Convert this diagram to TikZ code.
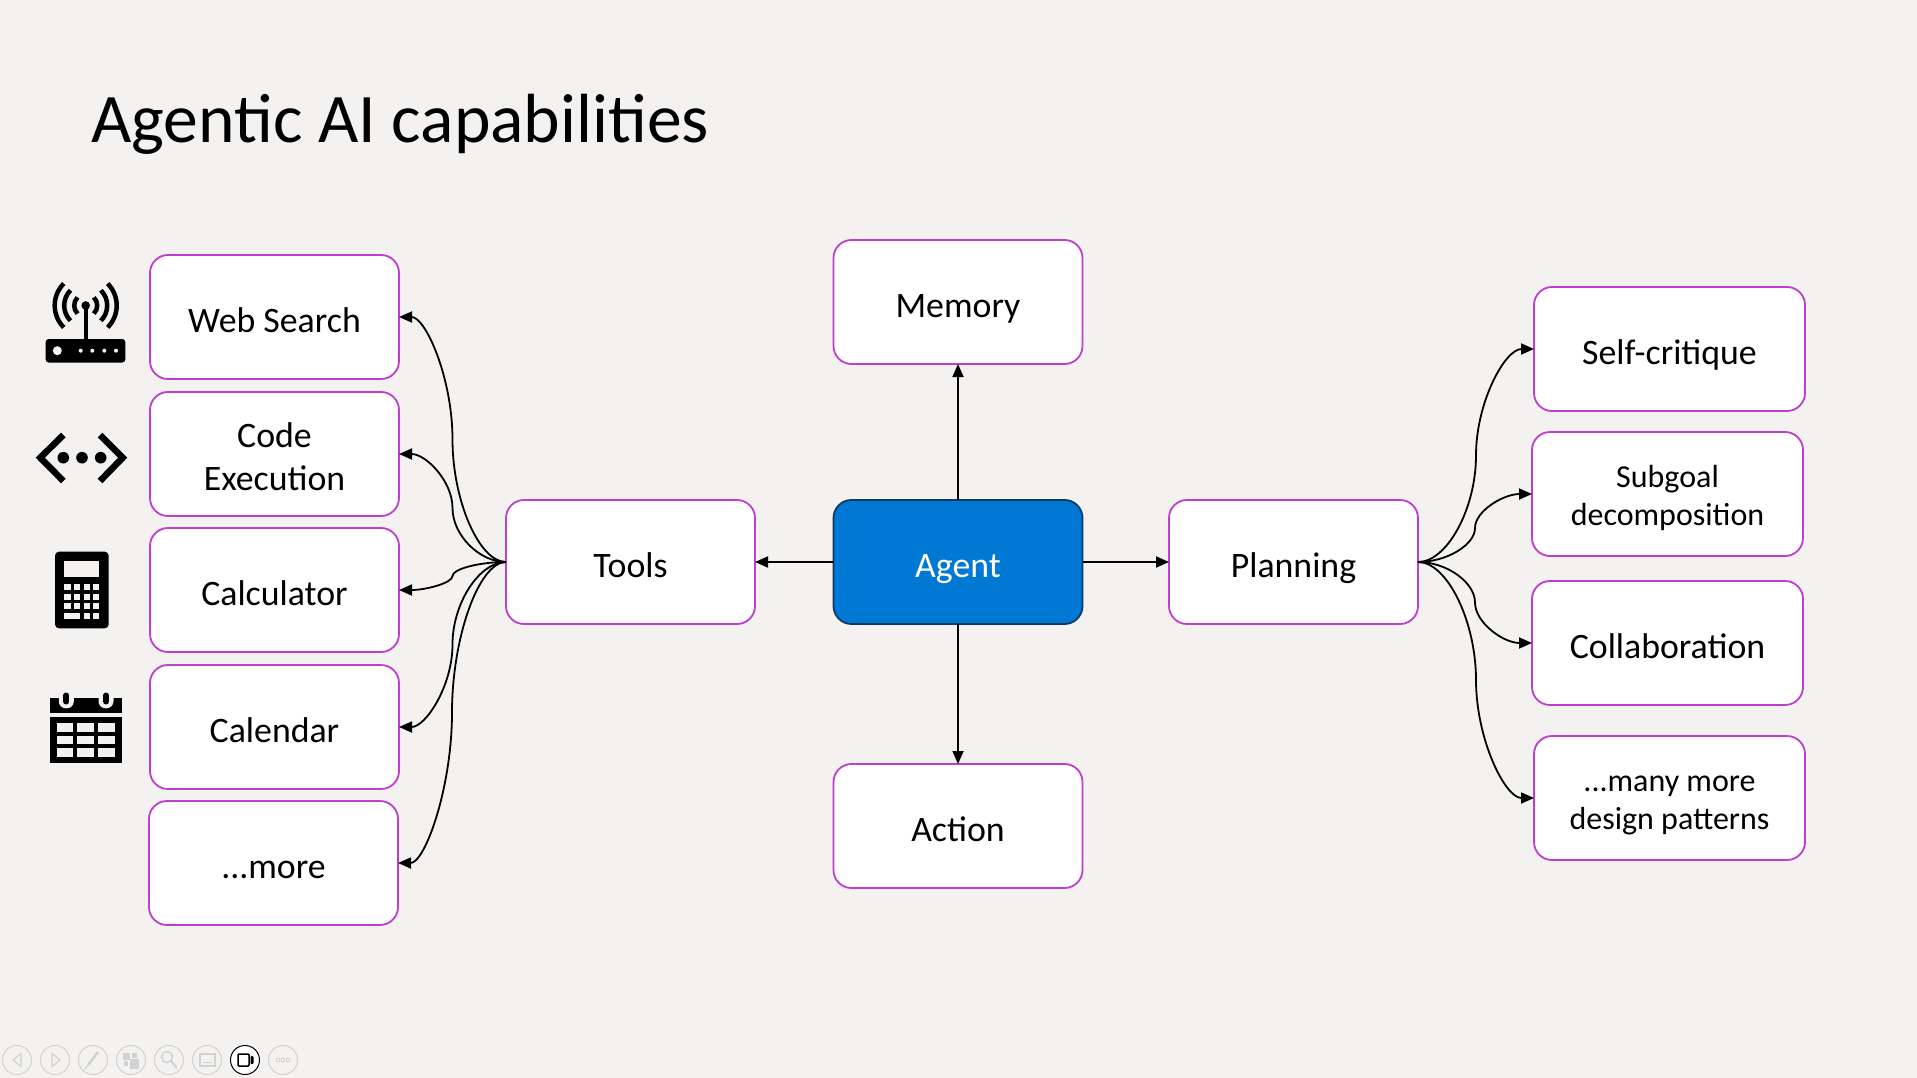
\documentclass[tikz,border=0pt]{standalone}
\usepackage{fontspec}
\setmainfont{Carlito}
\usetikzlibrary{arrows.meta,calc}
\definecolor{bgc}{HTML}{F3F2F1}
\definecolor{boxline}{HTML}{BE3FCB}
\definecolor{agentfill}{HTML}{0078D4}
\definecolor{agentline}{HTML}{0B3A66}
\definecolor{tb}{HTML}{D2D2D2}
\tikzset{
  box/.style={draw=boxline,fill=white,line width=1.8pt,rounded corners=18pt,minimum width=249pt,minimum height=124pt,outer sep=0pt,inner sep=0pt,align=center,font=\fontsize{35.8}{43}\selectfont,text=black,text height=30pt,text depth=0pt},
  wide/.style={minimum width=271pt},
  twolines/.style={text height=73pt,text depth=0pt},
  small/.style={font=\fontsize{32}{38}\selectfont,text height=63pt,text depth=0pt},
  agentbox/.style={box,fill=agentfill,draw=agentline,text=white},
  arr/.style={draw=black,line width=1.8pt,-{Triangle[length=13pt,width=11pt]}},
  tbc/.style={draw=tb,line width=1pt,fill=none},
  tbi/.style={draw=tb,line width=1.2pt,fill=none},
}
\newcommand{\curvelink}[2]{%
  \draw[arr] let \p1=(#1),\p2=(#2) in (\p1)
    .. controls ({.75*\x1+.25*\x2},\y1) and ({.5*\x1+.5*\x2},{.75*\y1+.25*\y2}) .. ({.5*\x1+.5*\x2},{.5*\y1+.5*\y2})
    .. controls ({.5*\x1+.5*\x2},{.25*\y1+.75*\y2}) and ({.25*\x1+.75*\x2},\y2) .. (\p2);}
\begin{document}
\begin{tikzpicture}[x=1pt,y=-1pt]
\useasboundingbox (0,0) rectangle (1917,1078);
\fill[bgc] (0,0) rectangle (1917,1078);
\node[anchor=base west,inner sep=0pt,font=\fontsize{69.6}{75}\selectfont] (title) at (91,143) {Agentic AI capabilities};
% boxes
\node[box] (web) at (274.5,317) {Web Search};
\node[box,twolines] (code) at (274.5,454) {Code\\Execution};
\node[box] (calc) at (274.5,590) {Calculator};
\node[box] (cal) at (274.5,727) {Calendar};
\node[box] (more) at (273.5,863) {...more};
\node[box] (tools) at (630.5,562) {Tools};
\node[agentbox] (agent) at (958,562) {Agent};
\node[box] (memory) at (958,302) {Memory};
\node[box] (action) at (958,826) {Action};
\node[box] (plan) at (1293.5,562) {Planning};
\node[box,wide] (self) at (1669.5,349) {Self-critique};
\node[box,wide,small] (sub) at (1667.5,494) {Subgoal\\decomposition};
\node[box,wide] (collab) at (1667.5,643) {Collaboration};
\node[box,wide,small] (many) at (1669.5,798) {...many more\\design patterns};
% connectors
\draw[arr] (agent.north) -- (memory.south);
\draw[arr] (agent.south) -- (action.north);
\draw[arr] (agent.west) -- (tools.east);
\draw[arr] (agent.east) -- (plan.west);
\curvelink{tools.west}{web.east}
\curvelink{tools.west}{code.east}
\curvelink{tools.west}{calc.east}
\curvelink{tools.west}{cal.east}
\curvelink{tools.west}{more.east}
\curvelink{plan.east}{self.west}
\curvelink{plan.east}{sub.west}
\curvelink{plan.east}{collab.west}
\curvelink{plan.east}{many.west}
% router icon
\fill[black,rounded corners=3pt] (45.7,339) rectangle (125.3,362.5);
\fill[bgc] (57.3,350.7) circle (4.5);
\foreach \x in {80.7,92.3,104.3,116}{\fill[bgc] (\x,350.7) circle (2);}
\draw[black,line width=4pt] (85.7,305.5) -- (85.7,340);
\fill[black] (85.7,305.5) circle (4.3);
\foreach \r in {11.5,21.5,31}{
  \draw[black,line width=4.5pt] ({85.7+\r*cos(135)},{305.5-\r*sin(135)}) arc[start angle=135,end angle=225,radius=\r pt];
  \draw[black,line width=4.5pt] ({85.7+\r*cos(45)},{305.5-\r*sin(45)}) arc[start angle=45,end angle=-45,radius=\r pt];
}
% code icon
\draw[black,line width=6.5pt,miter limit=10] (63.3,435) -- (40.3,457.7) -- (63.3,481);
\draw[black,line width=6.5pt,miter limit=10] (100,435) -- (122.7,457.7) -- (100,481);
\foreach \x in {63.3,82,100.7}{\fill[black] (\x,457.7) circle (5.8);}
% calculator icon
\fill[black,rounded corners=4pt] (55,551.7) rectangle (108.7,628.3);
\fill[bgc] (64.3,561) rectangle (99.3,576.7);
\foreach \a/\b in {584/590,593.7/599.7,603.3/609.3}{
  \foreach \c/\d in {64.3/70.7,74/80.3,83.7/90,93.3/99.3}{\fill[bgc] (\c,\a) rectangle (\d,\b);}
}
\fill[bgc] (64.3,613) rectangle (80.3,619);
\fill[bgc] (83.7,613) rectangle (90,619);
\fill[bgc] (93.3,613) rectangle (99.3,619);
% calendar icon
\fill[black] (50.2,698.3) rectangle (121.8,712.7);
\fill[black] (50.2,717.3) rectangle (121.8,762.8);
\foreach \c/\d in {56.7/73.3,77.3/94.3,98.3/115.3}{
  \foreach \a/\b in {723.3/731.7,735.7/744,748.3/756.7}{\fill[bgc] (\c,\a) rectangle (\d,\b);}
}
\foreach \x in {66.3,106}{
  \fill[bgc,rounded corners=7pt] (\x-7.5,690) rectangle (\x+7.5,708.3);
  \draw[black,line width=6pt,line cap=round] (\x,695.5) -- (\x,701.5);
}
% toolbar
\foreach \x in {17,55,93,131,169,207,283}{\draw[tbc] (\x,1060) circle (14.5);}
\draw[tbi] (21,1053.5) -- (13,1060) -- (21,1066.5) -- cycle;
\draw[tbi] (52,1053.5) -- (60,1060) -- (52,1066.5) -- cycle;
\draw[tbi,line width=2.5pt] (98,1052) -- (88,1065);
\draw[tbi] (85,1069) -- (88,1065);
\fill[tb] (123,1053) rectangle (130,1060);
\fill[tb] (132,1053) rectangle (137,1058);
\fill[tb] (124,1061) rectangle (128,1066);
\fill[tb] (130,1059) rectangle (139,1069);
\draw[tbi,line width=1.5pt] (167,1057) circle (5.5);
\draw[tbi,line width=2pt] (171,1061) -- (177,1068);
\draw[tbi] (200,1054) rectangle (215,1066);
\draw[tb,line width=1pt] (203,1062) -- (212,1062);
\fill[white] (245,1060) circle (14.5);
\draw[draw=black,line width=1pt] (245,1060) circle (14.5);
\draw[black,line width=1.5pt,rounded corners=1pt] (238,1054) rectangle (249,1066);
\fill[black,rounded corners=1pt] (250.5,1056) rectangle (253.5,1064);
\foreach \x in {278,283,288}{\draw[tb,line width=.8pt] (\x,1060) circle (2);}
\end{tikzpicture}
\end{document}
